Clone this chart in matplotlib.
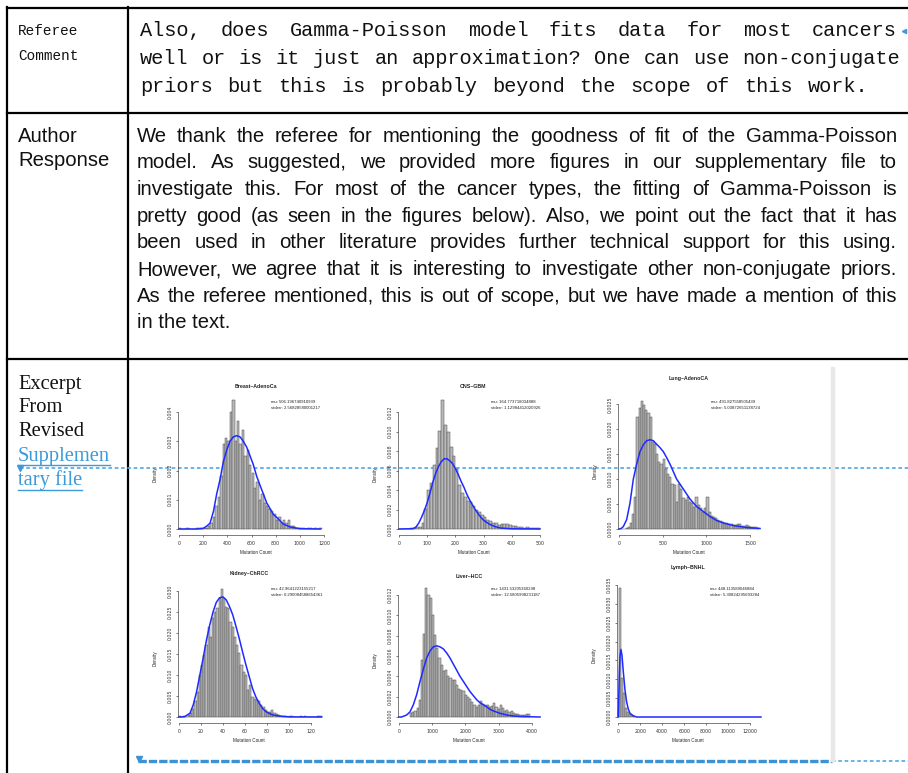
import numpy as np
import matplotlib
matplotlib.use("Agg")
import matplotlib.pyplot as plt

W, H = 908, 773

# ---------------- table text ----------------
referee_label = ["Referee", "Comment"]
referee_lines = ["Also, does Gamma-Poisson model fits data for most cancers",
                 "well or is it just an approximation? One can use non-conjugate",
                 "priors but this is probably beyond the scope of this work."]
author_label = ["Author", "Response"]
author_lines = ["We thank the referee for mentioning the goodness of fit of the Gamma-Poisson",
                "model. As suggested, we provided more figures in our supplementary file to",
                "investigate this. For most of the cancer types, the fitting of Gamma-Poisson is",
                "pretty good (as seen in the figures below). Also, we point out the fact that it has",
                "been used in other literature provides further technical support for this using.",
                "However, we agree that it is interesting to investigate other non-conjugate priors.",
                "As the referee mentioned, this is out of scope, but we have made a mention of this",
                "in the text."]
excerpt_label = ["Excerpt", "From", "Revised"]
link_label = ["Supplemen", "tary file"]

# ---------------- panel data ----------------
titles = ["Breast\u2013AdenoCa", "CNS\u2013GBM", "Lung\u2013AdenoCA",
          "Kidney\u2013ChRCC", "Liver\u2013HCC", "Lymph\u2013BNHL"]
mu_text = ["mu: 506.196740910939", "mu: 164.773718034888", "mu: 491.827558505439",
           "mu: 42.9641223155217", "mu: 1431.53205360298", "mu: 448.113589046884"]
se_text = ["stderr: 2.56828580001217", "stderr: 1.12984412020926", "stderr: 5.03872651138724",
           "stderr: 0.290084588654361", "stderr: 12.5805998231187", "stderr: 5.30824295693284"]

breast_start, breast_width = 0, 20
breast_dens = [0.00002, 0, 0, 0.00002, 0, 0, 0, 0.00002, 0.00002, 0.00004,
               0.00002, 0.00005, 0.0001, 0.0002, 0.0004, 0.0008, 0.0011, 0.0018, 0.0029, 0.0031,
               0.0030, 0.0040, 0.0044, 0.0030, 0.0037, 0.0029, 0.0034, 0.0025, 0.0027, 0.0022,
               0.0019, 0.0014, 0.0016, 0.0010, 0.0012, 0.0009, 0.0008, 0.0007, 0.0006, 0.0005,
               0.0003, 0.0004, 0.0002, 0.0003, 0.0002, 0.0003, 0.0001, 0.0001, 0.00005, 0.00005,
               0.00002, 0.00002, 0, 0.00004, 0.00002, 0, 0.00002, 0, 0.00002]
breast_fit_x = [0, 150, 200, 230, 257, 285, 312, 340, 367, 395, 422, 450, 477, 505, 532,
                560, 588, 615, 643, 670, 698, 725, 753, 780, 808, 863, 919, 1001, 1170]
breast_fit_y = [0, 0, 0.00002, 0.0001, 0.0002, 0.0006, 0.0012, 0.0017, 0.0023, 0.0027, 0.0030,
                0.00315, 0.00319, 0.00315, 0.0030, 0.0028, 0.0025, 0.0022, 0.0018, 0.0015, 0.0012,
                0.0009, 0.0007, 0.0005, 0.0004, 0.00017, 0.00007, 0.00001, 0]

cns_start, cns_width = 0, 10
cns_dens = [0.00005, 0, 0.00005, 0.00005, 0.0001, 0.0001, 0.0002, 0.0002, 0.0006, 0.0021,
            0.0040, 0.0047, 0.0066, 0.0083, 0.0101, 0.0132, 0.0107, 0.0100, 0.0084, 0.0075,
            0.0062, 0.0045, 0.0037, 0.0033, 0.0029, 0.0028, 0.0024, 0.0020, 0.0017, 0.0014,
            0.0012, 0.0009, 0.0008, 0.0006, 0.0006, 0.0004, 0.0005, 0.0005, 0.0005, 0.0004,
            0.0003, 0.0003, 0.0002, 0.0002, 0.0001, 0.0002, 0.0001, 0.0001, 0.0001, 0.0001]
cns_fit_x = [0, 50, 60, 70, 80, 90, 100, 110, 120, 130, 140, 150, 160, 170, 180, 190, 200,
             210, 220, 230, 240, 250, 260, 270, 280, 290, 300, 320, 340, 360, 400, 500]
cns_fit_y = [0, 0.00003, 0.0002, 0.0006, 0.0012, 0.0019, 0.0027, 0.0037, 0.0048, 0.0057, 0.0064,
             0.0069, 0.0072, 0.0072, 0.0070, 0.0067, 0.0062, 0.0056, 0.0049, 0.0043, 0.0036,
             0.0030, 0.0025, 0.0020, 0.0016, 0.0012, 0.0009, 0.0005, 0.00025, 0.0001, 0.00002, 0]

lung_start, lung_width = 0, 25
lung_dens = [0, 0, 0.00001, 0.00002, 0.00005, 0.00012, 0.0003, 0.00065, 0.00224, 0.00242,
             0.00257, 0.00249, 0.00239, 0.00232, 0.00225, 0.00175, 0.0017, 0.0015, 0.00135, 0.0013,
             0.0014, 0.0012, 0.0011, 0.00105, 0.0009, 0.00089, 0.00055, 0.0009, 0.0008, 0.00062,
             0.00059, 0.00065, 0.00055, 0.00052, 0.00045, 0.00065, 0.00049, 0.00042, 0.00035, 0.00042,
             0.00065, 0.00035, 0.00027, 0.00025, 0.00022, 0.00019, 0.00017, 0.00015, 0.00013, 0.00012,
             0.0001, 0.0001, 0.00009, 0.00008, 0.0001, 0.0001, 0.00006, 0.00007, 0.00009, 0.00006,
             0.00005, 0.00004, 0.00005, 0.00003]
lung_fit_x = [0, 25, 50, 88, 126, 164, 202, 240, 279, 317, 355, 393, 431, 470, 508, 546, 584,
              622, 660, 737, 813, 889, 966, 1042, 1118, 1195, 1309, 1462, 1615]
lung_fit_y = [0, 0.00001, 0.00005, 0.00019, 0.00052, 0.00100, 0.00130, 0.00155, 0.00169, 0.00177,
              0.00179, 0.00177, 0.00170, 0.00163, 0.00155, 0.00143, 0.00130, 0.00115, 0.00100,
              0.00080, 0.00060, 0.00045, 0.00035, 0.00025, 0.00017, 0.00012, 0.00007, 0.00003, 0.00001]

kidney_start, kidney_width = 0, 2
kidney_dens = [0.0002, 0, 0.0002, 0.0001, 0.0004, 0.0009, 0.002, 0.0037, 0.006, 0.010,
               0.0124, 0.0148, 0.0171, 0.0215, 0.019, 0.0235, 0.025, 0.0259, 0.0283, 0.0305,
               0.0283, 0.0263, 0.0259, 0.0227, 0.0215, 0.019, 0.0171, 0.0152, 0.0124, 0.0108,
               0.010, 0.0064, 0.0076, 0.0048, 0.0044, 0.004, 0.0037, 0.0029, 0.0025, 0.0017,
               0.0013, 0.0013, 0.0017, 0.0009, 0.0006, 0.0004, 0.0003, 0.0002, 0.0002, 0.0001,
               0.0002, 0.0002, 0, 0, 0.0001, 0.0002, 0, 0.0002, 0, 0,
               0, 0, 0, 0.0002, 0.0002]
kidney_fit_x = [0, 5, 10, 13, 16, 19, 22, 25, 28, 31, 34, 37, 40, 43, 46, 49, 52, 55, 58, 61,
                64, 67, 70, 73, 76, 79, 85, 92, 100, 130]
kidney_fit_y = [0, 0.00005, 0.0009, 0.0029, 0.006, 0.010, 0.014, 0.0183, 0.0219, 0.025, 0.0273,
                0.0284, 0.0286, 0.0279, 0.0263, 0.0243, 0.0215, 0.0186, 0.0154, 0.0124, 0.0096,
                0.0068, 0.0048, 0.0033, 0.0021, 0.0013, 0.0005, 0.0002, 0.00003, 0]

liver_start, liver_width = 330, 66
liver_dens = [0.00004, 0.00005, 0.00006, 0.00009, 0.00017, 0.00056, 0.00082, 0.00127, 0.0012, 0.00117,
              0.001, 0.00081, 0.00068, 0.00058, 0.00051, 0.00045, 0.00046, 0.0004, 0.00038, 0.00036,
              0.00036, 0.00031, 0.00028, 0.00027, 0.00026, 0.00022, 0.0002, 0.00018, 0.00015, 0.00012,
              0.0001, 0.00012, 0.00016, 0.00013, 0.00012, 0.00012, 0.0001, 0.00011, 0.00014, 0.0001,
              0.00008, 0.00012, 0.00009, 0.00006, 0.00007, 0.00005, 0.00006, 0.00004, 0.00003, 0.00003,
              0.00002, 0.00002, 0.00002, 0.00003, 0.00003]
liver_fit_x = [0, 80, 231, 330, 432, 533, 633, 734, 834, 935, 1035, 1136, 1236, 1337, 1437, 1538,
               1638, 1739, 1839, 1940, 2040, 2141, 2241, 2342, 2442, 2543, 2643, 2744, 2844, 3045,
               3246, 3447, 3648, 4251]
liver_fit_y = [0, 0, 0.00002, 0.00005, 0.00012, 0.00022, 0.00035, 0.00047, 0.00058, 0.00065,
               0.00069, 0.00070, 0.00069, 0.00067, 0.00063, 0.00058, 0.00052, 0.00046, 0.00040,
               0.00035, 0.00030, 0.00025, 0.00021, 0.00017, 0.00014, 0.00012, 0.00010, 0.000075,
               0.00006, 0.000036, 0.00002, 0.00001, 0.000005, 0]

lymph_start, lymph_width = 90, 180
lymph_dens = [0.00341, 0.00103, 0.00063, 0.00023, 0.00014, 0.00007, 0.00005, 0.00003]
lymph_fit_x = [0, 91, 152, 243, 334, 456, 608, 760, 912, 1064, 1368, 1672, 13000]
lymph_fit_y = [0, 0.0011, 0.0016, 0.00179, 0.00164, 0.0012, 0.00072, 0.0004, 0.00021, 0.0001,
               0.00003, 0, 0]

x_ticks = [[0, 200, 400, 600, 800, 1000, 1200], [0, 100, 200, 300, 400, 500], [0, 500, 1000, 1500],
           [0, 20, 40, 60, 80, 100, 120], [0, 1000, 2000, 3000, 4000],
           [0, 2000, 4000, 6000, 8000, 10000, 12000]]
y_ticks = [[0, 0.001, 0.002, 0.003, 0.004], [0, 0.002, 0.004, 0.006, 0.008, 0.010, 0.012],
           [0, 0.0005, 0.0010, 0.0015, 0.0020, 0.0025],
           [0, 0.005, 0.010, 0.015, 0.020, 0.025, 0.030],
           [0, 0.0002, 0.0004, 0.0006, 0.0008, 0.0010, 0.0012],
           [0, 0.0005, 0.0010, 0.0015, 0.0020, 0.0025, 0.0030, 0.0035]]
y_fmt = ["%.3f", "%.3f", "%.4f", "%.3f", "%.4f", "%.4f"]

hist_data = [(breast_start, breast_width, breast_dens, breast_fit_x, breast_fit_y),
             (cns_start, cns_width, cns_dens, cns_fit_x, cns_fit_y),
             (lung_start, lung_width, lung_dens, lung_fit_x, lung_fit_y),
             (kidney_start, kidney_width, kidney_dens, kidney_fit_x, kidney_fit_y),
             (liver_start, liver_width, liver_dens, liver_fit_x, liver_fit_y),
             (lymph_start, lymph_width, lymph_dens, lymph_fit_x, lymph_fit_y)]

# pixel box of each plot (x of 0, x of last tick, y of 0, y of top tick)
boxes = [(179, 324, 529, 412), (399, 540, 529, 412), (619, 750, 529, 404.3),
         (179, 310.7, 717, 591), (399, 531.7, 717, 595), (618.3, 750, 717, 585)]

LINK = "#3c9ad8"
DOT = "#5aaee8"

fig = plt.figure(figsize=(W / 100, H / 100), dpi=100)
bg = fig.add_axes([0, 0, 1, 1])
bg.set_xlim(0, W)
bg.set_ylim(H, 0)
bg.axis("off")

# table rules
bg.plot([7, W], [7.5, 7.5], color="k", lw=1.6)
bg.plot([7, W], [112.5, 112.5], color="k", lw=1.6)
bg.plot([7, W], [358.5, 358.5], color="k", lw=1.6)
bg.plot([7, 7], [7, H], color="k", lw=1.6)
bg.plot([128.3, 128.3], [7, H], color="k", lw=1.6)

renderer = fig.canvas.get_renderer()


def justify(line, x0, x1, y, **kw):
    words = line.split(" ")
    objs = [bg.text(x0, y, w, va="center", ha="left", **kw) for w in words]
    widths = [o.get_window_extent(renderer).width for o in objs]
    gap = (x1 - x0 - sum(widths)) / (len(words) - 1)
    x = x0
    for o, w in zip(objs, widths):
        o.set_x(x)
        x += w + gap


mono = dict(family="Liberation Mono", fontsize=14.6, color="#111111")
for i, s in enumerate(referee_label):
    bg.text(18, 31 + i * 25, s, family="Liberation Mono", fontsize=10.4, va="center", color="#111111")
ends = [897, 900, 868]
for i, s in enumerate(referee_lines):
    justify(s, 140, ends[i], 31 + i * 27.5, **mono)

sans = dict(family="Liberation Sans", fontsize=14.6, color="#111111")
for i, s in enumerate(author_label):
    bg.text(18, 136 + i * 25, s, va="center", **sans)
for i, s in enumerate(author_lines):
    y = 136 + i * 26.7
    if i < len(author_lines) - 1:
        justify(s, 137, 897, y, **sans)
    else:
        bg.text(137, y, s, va="center", **sans)

for i, s in enumerate(excerpt_label):
    bg.text(18, 384 + i * 24, s, family="Liberation Serif", fontsize=14.8, va="center", color="#111111")
for i, s in enumerate(link_label):
    t = bg.text(18, 456 + i * 24.5, s, family="Liberation Serif", fontsize=14.8, va="center", color=LINK)
    wpx = t.get_window_extent(renderer).width
    bg.plot([18, 18 + wpx], [465 + i * 24.5, 465 + i * 24.5], color=LINK, lw=1)

# comment anchor lines
bg.plot([20, W], [468, 468], color=DOT, lw=1.3, ls=(0, (2, 1.5)))
bg.plot([20], [468], marker="v", color=LINK, ms=4)
bg.plot([138, 832], [761, 761], color="#3d92d4", lw=2.4, ls=(0, (2.5, 0.6)))
bg.plot([832, W], [761, 761], color=DOT, lw=1.3, ls=(0, (2, 1.5)))
bg.plot([139], [759], marker="v", color="#3d92d4", ms=5)
bg.plot([904], [31], marker="<", color=LINK, ms=3)

# right edge of the pasted figure
bg.plot([833, 833], [369, 760], color="#e8e8e8", lw=3.2)

small = dict(family="Liberation Sans", color="#222222")
for k in range(6):
    x0, x1, y0, y1 = boxes[k]
    start, width, dens, fx, fy = hist_data[k]
    xt, yt = x_ticks[k], y_ticks[k]
    ax = fig.add_axes([x0 / W, 1 - y0 / H, (x1 - x0) / W, (y0 - y1) / H])
    ax.set_xlim(xt[0], xt[-1])
    ax.set_ylim(yt[0], yt[-1])
    ax.patch.set_alpha(0)
    lefts = start + width * np.arange(len(dens))
    ax.bar(lefts, dens, width=width, align="edge", color="#b9b9b9", edgecolor="#4a4a4a",
           lw=0.35, clip_on=False)
    ax.plot(fx, fy, color="#1e2bff", lw=1.1, clip_on=False)
    for sp in ["top", "right"]:
        ax.spines[sp].set_visible(False)
    ax.spines["left"].set_position(("outward", 1))
    ax.spines["bottom"].set_position(("outward", 4))
    for sp in ["left", "bottom"]:
        ax.spines[sp].set_linewidth(0.45)
        ax.spines[sp].set_color("#333333")
    ax.set_xticks(xt)
    ax.set_xticklabels([str(v) for v in xt])
    ax.set_yticks(yt)
    ax.set_yticklabels([y_fmt[k] % v for v in yt], rotation=90, va="center")
    ax.tick_params(length=1.6, width=0.45, color="#333333", labelsize=3.4, labelcolor="#333333")
    ax.tick_params(axis="x", pad=3.2)
    ax.tick_params(axis="y", pad=2.0)

    xc = (x0 + x1) / 2 + 4
    bg.text(xc, y1 - 26 if k < 3 else y1 - 18, titles[k], ha="center", va="center",
            fontsize=3.8, fontweight="bold", **small)
    ty = 402 if k < 3 else 589
    bg.text(x0 + 92, ty, mu_text[k], ha="left", va="center", fontsize=3.1, **small)
    bg.text(x0 + 92, ty + 6, se_text[k], ha="left", va="center", fontsize=3.1, **small)
    bg.text(x0 - 24, (y0 + y1) / 2 + 4, "Density", ha="center", va="center", rotation=90,
            fontsize=3.3, **small)
    bg.text(xc, y0 + 24, "Mutation Count", ha="center", va="center", fontsize=3.3, **small)

fig.savefig("out.png", dpi=100)
